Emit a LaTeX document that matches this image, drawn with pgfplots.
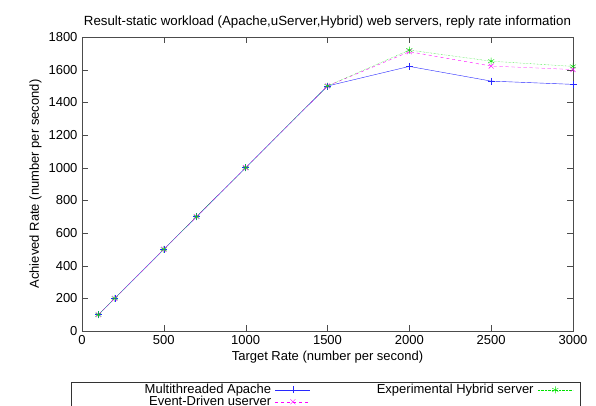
\documentclass[border=0pt]{standalone}
\usepackage{pgfplots}
\pgfplotsset{compat=1.18}
\usepackage{fontspec}
\setmainfont{Liberation Sans}
\definecolor{gpgreen}{RGB}{0,225,0}
\definecolor{gpblue}{RGB}{40,40,255}
\definecolor{gpmagenta}{RGB}{255,0,255}
\begin{document}
\fontsize{13}{15}\selectfont
\begin{tikzpicture}
\begin{axis}[
    scale only axis,
    width=491pt, height=294pt,
    xmin=0, xmax=3000,
    ymin=0, ymax=1800,
    xtick={0,500,...,3000},
    ytick={0,200,...,1800},
    tick align=inside,
    major tick length=6pt,
    axis line style={black!70},
    tick style={black!70},
    /pgf/number format/assume math mode=true,
    /pgf/number format/set thousands separator={},
    title={Result-static workload (Apache,uServer,Hybrid) web servers, reply rate information},
    title style={font=\fontsize{13.3}{15}\selectfont, yshift=-2pt},
    xlabel={Target Rate (number per second)},
    ylabel={Achieved Rate (number per second)},
    xlabel style={yshift=3pt},
    ylabel style={yshift=-2pt},
    legend columns=2,
    transpose legend,
    legend plot pos=right,
    legend cell align=right,
    legend style={at={(-0.0224,-0.1735)}, anchor=north west, draw=black!80,
        inner xsep=7pt, inner ysep=0pt, row sep=-3.5pt, column sep=2pt},
    legend image code/.code={
        \draw[mark repeat=2, mark phase=2] plot coordinates {(0pt,0pt) (17.5pt,0pt) (35pt,0pt)};
    },
]
\addplot[color=gpblue, mark=+, mark size=3.5pt, mark options={solid}]
    coordinates {(100,100)(200,200)(500,500)(700,700)(1000,1000)(1500,1500)(2000,1620)(2500,1530)(3000,1510)};
\addlegendentry{\makebox[191pt][r]{Multithreaded Apache}}
\addplot[color=gpmagenta, dashed, mark=x, mark size=3.5pt, mark options={solid}]
    coordinates {(100,100)(200,200)(500,500)(700,700)(1000,1000)(1500,1500)(2000,1710)(2500,1622)(3000,1601)};
\addlegendentry{\makebox[191pt][r]{Event-Driven userver}}
\addplot[color=gpgreen, densely dotted, mark=asterisk, mark size=3.5pt, mark options={solid}]
    coordinates {(100,100)(200,200)(500,500)(700,700)(1000,1000)(1500,1500)(2000,1720)(2500,1652)(3000,1620)};
\addlegendentry{\makebox[219pt][r]{Experimental Hybrid server}}
\end{axis}
\pgfresetboundingbox
\path[use as bounding box] (-82pt,-74pt) rectangle (514pt,331pt);
\end{tikzpicture}
\end{document}
